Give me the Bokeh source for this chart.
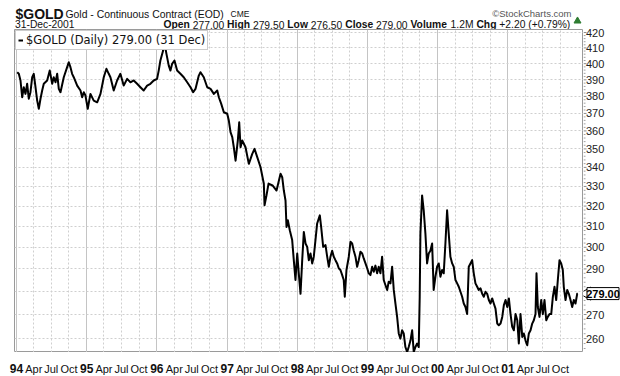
import math
from datetime import datetime
from bokeh.plotting import figure
from bokeh.layouts import column, row
from bokeh.models import (Range1d, FixedTicker, Grid, ColumnDataSource, Legend, LegendItem)
from bokeh.core.properties import value
from bokeh.embed import file_html
from bokeh.resources import INLINE

# ---- data (decimal year, close) ----
years = [
    1994.010, 1994.033, 1994.057, 1994.081, 1994.104, 1994.128, 1994.152, 1994.175, 1994.199, 1994.224,
    1994.246, 1994.271, 1994.295, 1994.318, 1994.342, 1994.366, 1994.389, 1994.437, 1994.474, 1994.509,
    1994.531, 1994.556, 1994.580, 1994.603, 1994.627, 1994.674, 1994.722, 1994.745, 1994.769, 1994.793,
    1994.816, 1994.865, 1994.912, 1994.936, 1994.959, 1994.983, 1995.016, 1995.054, 1995.101, 1995.150,
    1995.197, 1995.244, 1995.282, 1995.315, 1995.339, 1995.386, 1995.434, 1995.481, 1995.528, 1995.577,
    1995.624, 1995.671, 1995.719, 1995.766, 1995.813, 1995.862, 1995.909, 1995.956, 1996.004, 1996.027,
    1996.051, 1996.090, 1996.108, 1996.137, 1996.170, 1996.194, 1996.218, 1996.251, 1996.289, 1996.336,
    1996.383, 1996.432, 1996.479, 1996.517, 1996.550, 1996.597, 1996.621, 1996.668, 1996.717, 1996.764,
    1996.811, 1996.859, 1996.882, 1996.916, 1996.953, 1997.001, 1997.024, 1997.048, 1997.073, 1997.095,
    1997.120, 1997.152, 1997.172, 1997.191, 1997.215, 1997.262, 1997.309, 1997.358, 1997.390, 1997.429,
    1997.476, 1997.523, 1997.533, 1997.561, 1997.590, 1997.647, 1997.704,
    1997.761, 1997.785, 1997.808, 1997.832, 1997.846, 1997.865, 1997.893, 1997.927, 1997.950, 1997.974,
    1997.999, 1998.021, 1998.046,
    1998.070, 1998.093, 1998.117, 1998.141, 1998.164, 1998.188, 1998.212, 1998.235, 1998.259, 1998.283,
    1998.321, 1998.340, 1998.369, 1998.402, 1998.426, 1998.449, 1998.473, 1998.497, 1998.520, 1998.544,
    1998.568, 1998.591, 1998.615, 1998.640, 1998.662, 1998.677, 1998.701, 1998.734, 1998.758, 1998.782,
    1998.805, 1998.829, 1998.853, 1998.876, 1998.900, 1998.925, 1998.947, 1998.972, 1998.996, 1999.019,
    1999.043, 1999.067, 1999.090, 1999.114, 1999.138, 1999.161, 1999.185, 1999.209, 1999.232, 1999.256,
    1999.281, 1999.303, 1999.328, 1999.352, 1999.375, 1999.399, 1999.423, 1999.446, 1999.470, 1999.494,
    1999.517, 1999.541, 1999.566, 1999.588, 1999.613, 1999.637, 1999.660, 1999.684, 1999.708, 1999.731,
    1999.745, 1999.755, 1999.779, 1999.802, 1999.826, 1999.850, 1999.873, 1999.897, 1999.922, 1999.944,
    1999.969, 1999.993, 2000.016, 2000.040, 2000.064, 2000.087, 2000.111, 2000.135, 2000.158, 2000.182,
    2000.207, 2000.229, 2000.254, 2000.278, 2000.301, 2000.325, 2000.349, 2000.372, 2000.396, 2000.420,
    2000.443, 2000.467, 2000.491, 2000.514, 2000.538, 2000.563, 2000.585, 2000.610, 2000.634, 2000.657,
    2000.681, 2000.705, 2000.728, 2000.752, 2000.776, 2000.799, 2000.823, 2000.848, 2000.870, 2000.895,
    2000.919, 2000.942, 2000.966, 2000.990, 2001.013, 2001.037, 2001.061, 2001.084, 2001.108, 2001.133,
    2001.155, 2001.179, 2001.204, 2001.226, 2001.251, 2001.275, 2001.298, 2001.322, 2001.346, 2001.369,
    2001.393, 2001.407, 2001.426, 2001.450, 2001.474, 2001.497, 2001.521, 2001.546, 2001.568, 2001.593,
    2001.617, 2001.640, 2001.664, 2001.688, 2001.711, 2001.735, 2001.759, 2001.782, 2001.796, 2001.821,
    2001.845, 2001.868, 2001.892, 2001.916, 2001.939, 2001.963, 2001.987, 2001.997,
]
prices = [
    394.7, 393.7, 389.6, 379.5, 385.5, 381.5, 387.6, 378.6, 382.5, 391.6,
    393.7, 385.5, 377.5, 372.7, 378.6, 383.5, 387.6, 389.6, 395.7, 387.6,
    391.6, 388.5, 393.7, 384.5, 382.5, 391.6, 397.8, 400.9, 397.8, 393.7,
    391.6, 386.5, 383.5, 379.5, 382.5, 380.5, 372.7, 381.5, 377.5, 376.5,
    381.5, 391.6, 396.8, 393.7, 391.6, 383.5, 389.6, 393.7, 386.5, 390.6,
    388.5, 389.6, 387.6, 385.5, 383.5, 386.5, 387.6, 389.6, 390.6, 395.7,
    402.0, 408.3, 413.7, 406.2, 398.8, 395.7, 399.9, 402.0, 395.7, 393.7,
    391.6, 388.5, 385.5, 382.5, 384.5, 392.6, 394.7, 391.6, 385.5, 384.5,
    381.5, 383.5, 379.5, 375.6, 370.7, 369.8, 365.9, 359.3, 356.5, 350.9,
    343.6, 354.6, 364.9, 350.9, 354.6, 350.9, 341.9, 347.3, 350.0, 345.5,
    340.1, 331.4, 320.4, 325.4, 331.5, 330.5, 327.9,
    336.6, 334.8, 327.9, 322.8, 309.7, 313.0, 308.1, 303.4, 294.0, 285.0,
    297.1, 288.0, 278.9,
    294.0, 307.3, 301.8, 300.2, 294.0, 297.1, 292.5, 295.6, 303.4, 311.4,
    315.4, 309.7, 300.2, 301.0, 295.6, 291.0, 295.6, 298.4, 295.6, 294.0,
    292.5, 290.3, 289.5, 287.2, 285.0, 277.6, 289.5, 295.6, 302.6, 301.8,
    298.4, 295.6, 291.0, 294.0, 297.9, 297.1, 294.8, 292.5, 290.3, 288.0,
    287.2, 291.0, 288.7, 291.5, 288.0, 291.0, 288.0, 295.6, 285.0, 282.8,
    280.6, 284.2, 283.5, 291.0, 280.6, 274.7, 269.0, 262.1, 260.0, 263.4,
    262.1, 256.6, 254.6, 256.6, 259.2, 263.4, 254.6, 256.6, 258.0, 256.6,
    277.6, 306.6, 325.4, 317.9, 306.6, 292.5, 297.1, 298.4, 301.8, 280.6,
    286.5, 291.0, 292.5, 286.5, 289.5, 288.0, 301.8, 317.9, 306.6, 295.6,
    292.5, 291.0, 285.0, 283.5, 282.0, 279.8, 277.6, 274.7, 273.2, 270.2,
    291.0, 292.5, 294.0, 288.0, 283.5, 282.0, 280.6, 281.3, 278.9, 277.6,
    279.8, 278.9, 276.2, 274.7, 276.9, 274.7, 272.5, 266.2, 265.5, 266.2,
    269.0, 274.0, 276.2, 273.2, 276.9, 270.2, 264.8, 263.4, 270.2, 267.6,
    258.0, 270.2, 260.7, 262.1, 259.2, 257.3, 262.1, 263.4, 266.2, 267.6,
    270.2, 288.0, 273.2, 269.0, 276.2, 270.2, 276.2, 267.6, 269.0, 270.2,
    270.2, 277.6, 282.0, 276.2, 285.0, 294.0, 292.5, 289.5, 282.0, 276.2,
    280.6, 278.9, 276.2, 273.2, 276.2, 274.7, 278.9, 279.0,
]

y_ticks = [260, 270, 280, 290, 300, 310, 320, 330, 340, 350, 360, 370, 380, 390, 400, 410, 420]
y_tick_labels = ["260", "270", "", "290", "300", "310", "320", "330", "340", "350", "360",
                 "370", "380", "390", "400", "410", "420"]
label_years = [1994, 1995, 1996, 1997, 1998, 1999, 2000, 2001]
year_labels = ["94", "95", "96", "97", "98", "99", "00", "01"]
month_numbers = [4, 7, 10]
month_labels = ["Apr", "Jul", "Oct"]
last_close = 279.00
quote_names = ["Open", "High", "Low", "Close", "Volume", "Chg"]
quote_values = ["277.00", "279.50", "276.50", "279.00", "1.2M", "+2.20 (+0.79%)"]


def to_dt(t):
    y = int(t)
    a, b = datetime(y, 1, 1), datetime(y + 1, 1, 1)
    return a + (b - a) * (t - y)


def ms(d):
    return (d - datetime(1970, 1, 1)).total_seconds() * 1000.0


FONT = "Liberation Sans"
W = 620
TOP, FRAME_H, BOTTOM = 29, 323, 24
LEFT, FRAME_W, RIGHT = 14, 569, 37
Y_LO, Y_HI = 254.4, 422.0


def bare(fig, left=0):
    fig.grid.visible = False
    fig.outline_line_color = None
    fig.background_fill_color = "white"
    fig.border_fill_color = "white"
    fig.min_border = 0
    fig.min_border_left = left
    fig.min_border_right = 0
    fig.min_border_top = 0
    fig.min_border_bottom = 0
    return fig


def texts(fig, xs, ys, labels, size, bold=False, color="#111111", font=FONT, align="left",
          baseline="alphabetic"):
    src = ColumnDataSource(dict(x=xs, y=ys, t=labels))
    fig.text(x="x", y="y", text="t", source=src, text_font=value(font),
             text_font_size=value(f"{size}px"), text_font_style=value("bold" if bold else "normal"),
             text_color=color, text_align=align, text_baseline=baseline)


# ---------------- header (above the chart frame, frame aligned with the chart) ----------------
HW = LEFT + FRAME_W
header = bare(figure(width=HW, height=TOP, x_range=Range1d(LEFT, HW), y_range=Range1d(TOP, 0),
                     x_axis_location=None, y_axis_location=None, title=None,
                     output_backend="svg", toolbar_location=None), left=LEFT)
texts(header, [15], [13.5], ["$GOLD"], 14, bold=True)
texts(header, [65], [13.5], ["Gold - Continuous Contract (EOD)"], 10.4)
texts(header, [230], [13.5], ["CME"], 8.5)
texts(header, [571], [12.5], ["\u00a9StockCharts.com"], 9.5, color="#555555", align="right")
texts(header, [14.5], [24], ["31-Dec-2001"], 10.3)
texts(header, [163, 226.6, 286.8, 344.7, 410.0, 475.9], [24] * 6, quote_names, 10.3, bold=True)
texts(header, [192.2, 252.4, 310.3, 375.6, 450.1, 498.8], [24] * 6, quote_values, 10.3)
header.scatter(x=[577], y=[20.5], marker="triangle", size=7, fill_color="#2e7d32",
               line_color="#2e7d32")

# ---------------- main chart ----------------
x0, x1 = to_dt(1993.9715), to_dt(2002.077)
main = figure(width=HW, height=FRAME_H, x_axis_type="datetime", y_axis_type="log",
              x_range=Range1d(x0, x1), y_range=Range1d(Y_LO, Y_HI), title=None,
              x_axis_location=None, y_axis_location=None,
              output_backend="svg", toolbar_location=None)
main.min_border = 0
main.min_border_top = 0
main.min_border_bottom = 0
main.min_border_right = 0
main.min_border_left = LEFT
main.background_fill_color = "white"
main.border_fill_color = "white"
main.outline_line_color = "#9a9a9a"
main.center = [c for c in main.center if not isinstance(c, Grid)]

quarter_ms = [ms(datetime(y, m, 1)) for y in label_years for m in month_numbers]
year_ms = [ms(datetime(y, 1, 1)) for y in label_years]
main.add_layout(Grid(dimension=0, ticker=FixedTicker(ticks=quarter_ms), grid_line_color="#cfcfcf",
                     grid_line_dash="2 2"))
main.add_layout(Grid(dimension=0, ticker=FixedTicker(ticks=year_ms), grid_line_color="#c4c4c4"))
main.add_layout(Grid(dimension=1, ticker=FixedTicker(ticks=y_ticks), grid_line_color="#cfcfcf",
                     grid_line_dash="2 2"))

n = min(len(years), len(prices))
src = ColumnDataSource(dict(x=[to_dt(t) for t in years[:n]], y=prices[:n]))
line_r = main.line("x", "y", source=src, line_color="black", line_width=2, line_join="round")

leg = Legend(items=[LegendItem(label="$GOLD (Daily) 279.00 (31 Dec)", renderers=[line_r])],
             location="top_left", margin=1, padding=2, spacing=0, glyph_width=5, glyph_height=8,
             label_height=8, label_standoff=3, label_text_font="DejaVu Sans",
             label_text_font_size="11.5px", label_text_color="#111111",
             border_line_color="#999999", background_fill_color="white", background_fill_alpha=1.0)
main.add_layout(leg)

# ---------------- right price scale (spans header + frame height) ----------------
# same log scale as the frame, extended upward by the header height
log_span = math.log(Y_HI) - math.log(Y_LO)
side_hi = math.exp(math.log(Y_HI) + log_span * TOP / FRAME_H)
side = bare(figure(width=RIGHT, height=TOP + FRAME_H, y_axis_type="log", x_range=Range1d(0, RIGHT),
                   y_range=Range1d(Y_LO, side_hi), x_axis_location=None, y_axis_location=None,
                   title=None, output_backend="svg", toolbar_location=None))
minor = [v for v in range(256, 422, 2) if v % 10]
side.segment(x0=[0] * len(y_ticks), y0=y_ticks, x1=[3] * len(y_ticks), y1=y_ticks,
             line_color="#8a8a8a", line_width=1)
side.segment(x0=[0] * len(minor), y0=minor, x1=[2] * len(minor), y1=minor,
             line_color="#a0a0a0", line_width=1)
texts(side, [2.5] * len(y_ticks), y_ticks, y_tick_labels, 11, color="#222222",
      baseline="middle")
side.scatter(x=[3.5], y=[last_close], marker="triangle", angle=1.5708, size=13,
             fill_color="white", line_color="black", line_width=1)
side.rect(x=[19.5], y=[last_close], width=32, height=12, height_units="screen",
          fill_color="white", line_color="black", line_width=1)
texts(side, [19.5], [last_close], ["279.00"], 11, bold=True, color="black",
      align="center", baseline="middle")

# ---------------- x labels ----------------
k = (ms(x1) - ms(x0)) / FRAME_W
footer = bare(figure(width=W, height=BOTTOM,
                     x_range=Range1d(ms(x0) - LEFT * k, ms(x1) + RIGHT * k),
                     y_range=Range1d(BOTTOM, 0), x_axis_location=None, y_axis_location=None,
                     title=None, output_backend="svg", toolbar_location=None))
texts(footer, [datetime(y, 1, 1) for y in label_years], [16] * len(label_years), year_labels, 12,
      bold=True, align="center")
texts(footer, [datetime(y, m, 1) for y in label_years for m in month_numbers],
      [16] * (len(label_years) * len(month_numbers)),
      [lab for _ in label_years for lab in month_labels], 11, align="center")

layout = column(row(column(header, main, spacing=0), side, spacing=0), footer, spacing=0)
open("out.html", "w").write(file_html(layout, INLINE))
